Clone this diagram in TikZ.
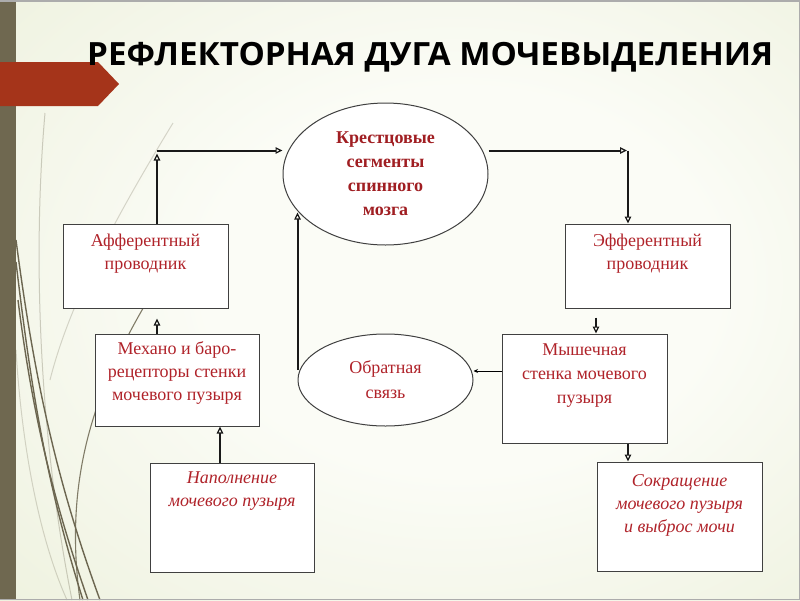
\documentclass[tikz,border=0pt]{standalone}
\usepackage{fontspec}
\usepackage{graphicx}
\setmainfont{Liberation Serif}
\newfontfamily\titlefont{Open Sans}
\usetikzlibrary{arrows.meta,shapes.geometric,calc}
\definecolor{txtred}{HTML}{B0232A}
\definecolor{krred}{HTML}{A01E22}
\definecolor{bgin}{HTML}{FBFCF6}
\definecolor{bgout}{HTML}{DCE3BE}
\definecolor{stripe}{HTML}{6F6850}
\definecolor{tagred}{HTML}{A5341A}
\definecolor{decor}{HTML}{6C6650}
\pgfdeclareradialshading{bgshade}{\pgfpoint{5bp}{2bp}}{color(0bp)=(bgin); color(16bp)=(bgin); color(70bp)=(bgout)}
\newsavebox\titlebox
\tikzset{
  boxnode/.style={draw=black!75, fill=white, line width=1pt, minimum width=#1, inner sep=0},
  boxtext/.style={anchor=north, inner sep=0, align=center, text=txtred, font=\fontsize{18}{23}\selectfont},
  boxtextit/.style={boxtext, font=\fontsize{18}{23}\selectfont\itshape},
  ovalnode/.style={ellipse, draw=black!75, fill=white, line width=1pt, inner sep=0, align=center},
  conn/.style={line width=2pt, draw=black!90, -{Triangle[open, length=7pt, width=6.5pt, line width=1.2pt]}},
  thinconn/.style={line width=0.8pt, draw=black, -{Stealth[length=4.5pt, width=4pt]}},
  deco/.style={draw=decor, line width=1.4pt},
}
\begin{document}
\sbox\titlebox{\titlefont\bfseries\fontsize{32}{32}\selectfont РЕФЛЕКТОРНАЯ ДУГА МОЧЕВЫДЕЛЕНИЯ}
\begin{tikzpicture}[x=1pt, y=-1pt]
\useasboundingbox (0,0) rectangle (800,600);
% background
\shade[shading=bgshade] (0,0) rectangle (800,600);
% decorative curves
\draw[deco, opacity=0.3, line width=1pt] (45,113) .. controls (33,250) and (38,430) .. (72,600);
\draw[deco, opacity=0.25, line width=1pt] (173,123) .. controls (120,210) and (70,300) .. (50,380);
\draw[deco, opacity=0.25, line width=1pt] (16,350) .. controls (22,450) and (40,540) .. (67,600);
\draw[deco] (16,262) .. controls (30,380) and (45,480) .. (83,600);
\draw[deco] (16,240) .. controls (35,385) and (58,485) .. (100,600);
\draw[deco] (18,300) .. controls (33,420) and (55,505) .. (88,600);
\draw[deco, line width=1.1pt, opacity=0.85] (152,293) .. controls (100,380) and (62,470) .. (80,600);
% left stripe and red tag
\fill[stripe] (0,0) rectangle (16,600);
\fill[tagred] (0,62) -- (98,62) -- (119,84) -- (98,106) -- (0,106) -- cycle;
% frame
\draw[gray!65, line width=1.5pt] (0,0.75) -- (799.25,0.75) -- (799.25,599.25) -- (0,599.25);
% title
\pgfmathsetmacro\tsx{686/\the\wd\titlebox}
\node[anchor=base west, inner sep=0, text=black!92] (title) at (87,65) {\scalebox{\tsx}[1]{\usebox\titlebox}};

% nodes
\node[ovalnode, minimum width=205, minimum height=142, text=krred,
      font=\fontsize{18}{24}\selectfont\bfseries] (kr) at (385.5,174)
      {Крестцовые\\сегменты\\спинного\\мозга};
\node[ovalnode, minimum width=175, minimum height=92, text=txtred,
      font=\fontsize{18}{25}\selectfont] (obr) at (385.5,380) {Обратная\\связь};

\node[boxnode=165, minimum height=84] (aff) at (145.5,266) {};
\node[boxtext] (afft) at (145.5,234) {Афферентный\\проводник};

\node[boxnode=164, minimum height=92] (mech) at (177,380) {};
\node[boxtext] (mecht) at (177,341) {Механо и баро-\\рецепторы стенки\\мочевого пузыря};

\node[boxnode=164, minimum height=109] (nap) at (232,517.5) {};
\node[boxtextit] (napt) at (232,472) {Наполнение\\мочевого пузыря};

\node[boxnode=165, minimum height=84] (eff) at (647.5,266) {};
\node[boxtext] (efft) at (647.5,234) {Эфферентный\\проводник};

\node[boxnode=165, minimum height=109] (mysh) at (584.5,388.5) {};
\node[boxtext, font=\fontsize{18}{24}\selectfont] (mysht) at (584.5,344) {Мышечная\\стенка мочевого\\пузыря};

\node[boxnode=165, minimum height=109] (sokr) at (679.5,516.5) {};
\node[boxtextit] (sokrt) at (679.5,474) {Сокращение\\мочевого пузыря\\и выброс мочи};

% connectors
\coordinate (a1) at ([xshift=11.5pt]aff.north);
\draw[conn] (a1) -- ++(0,-70);
\coordinate (a2) at ($(a1)+(0,-73)$);
\draw[conn] (a2) -- (a2 -| kr.west);

\coordinate (b1) at (kr.east |- a2);
\coordinate (b2) at ([xshift=-19.5pt]eff.north |- a2);
\draw[conn] (b1) -- ([xshift=-1pt]b2);
\draw[conn] (b2) -- ([xshift=-19.5pt]eff.north);

\draw[conn] ([xshift=-51.5pt,yshift=-9pt]eff.south) -- ([xshift=11.5pt]mysh.north);

\draw[thinconn] ([yshift=17.5pt]mysh.west) -- ([yshift=9pt]obr.east);

\coordinate (c1) at ([yshift=10pt]obr.west);
\draw[conn] (c1) -- (c1 |- kr.204);

\draw[conn] ([xshift=-20pt]mech.north) -- ([xshift=-20pt,yshift=-10pt]mech.north |- aff.south);
\draw[conn] ([xshift=-12pt]nap.north) -- ([xshift=43pt]mech.south);
\draw[conn] ([xshift=43.5pt]mysh.south) -- ([xshift=-51.5pt]sokr.north);
\end{tikzpicture}
\end{document}
